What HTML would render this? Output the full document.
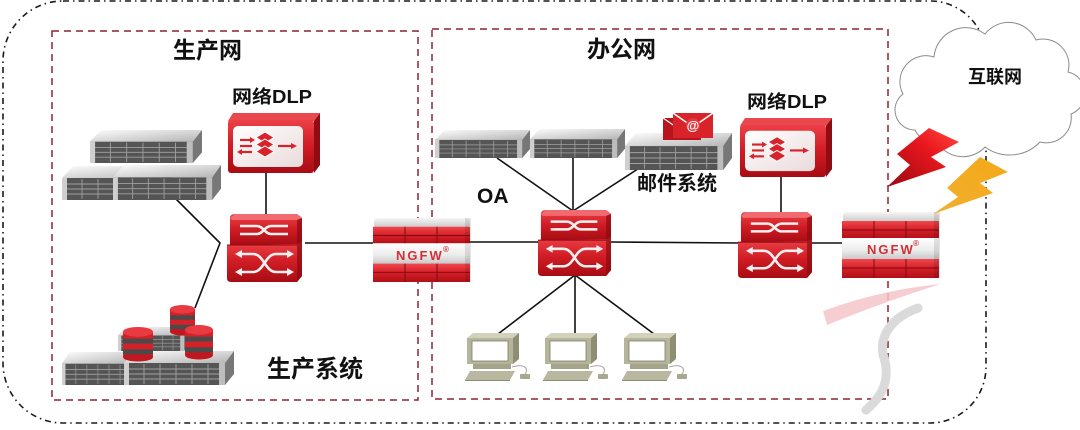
<!DOCTYPE html>
<html><head><meta charset="utf-8">
<style>
html,body{margin:0;padding:0;background:#fff;}
svg{display:block;}
text{font-family:"Liberation Sans","Noto Sans CJK SC",sans-serif;font-weight:bold;}
</style></head>
<body>
<svg width="1080" height="430" viewBox="0 0 1080 430" xmlns="http://www.w3.org/2000/svg">
<defs>
  <linearGradient id="redV" x1="0" y1="0" x2="0" y2="1">
    <stop offset="0" stop-color="#ec4046"/><stop offset="0.5" stop-color="#d01c24"/><stop offset="1" stop-color="#a80c14"/>
  </linearGradient>
  <linearGradient id="brick" x1="0" y1="0" x2="0" y2="1">
    <stop offset="0" stop-color="#f0484e"/><stop offset="0.5" stop-color="#d41e26"/><stop offset="1" stop-color="#b01018"/>
  </linearGradient>
  <linearGradient id="cap" x1="0" y1="0" x2="0" y2="1">
    <stop offset="0" stop-color="#f6f6f6"/><stop offset="1" stop-color="#c4c4c4"/>
  </linearGradient>
  <linearGradient id="band" x1="0" y1="0" x2="0" y2="1">
    <stop offset="0" stop-color="#ffffff"/><stop offset="0.6" stop-color="#ebebeb"/><stop offset="1" stop-color="#c8c8c8"/>
  </linearGradient>
  <linearGradient id="panel" x1="0" y1="0" x2="1" y2="1">
    <stop offset="0" stop-color="#ffffff"/><stop offset="1" stop-color="#eadada"/>
  </linearGradient>
  <linearGradient id="srvTop" x1="0" y1="0" x2="1" y2="1">
    <stop offset="0" stop-color="#fdfdfd"/><stop offset="1" stop-color="#b4b4b4"/>
  </linearGradient>
  <linearGradient id="boltR" x1="0" y1="1" x2="1" y2="0">
    <stop offset="0" stop-color="#9a0a10"/><stop offset="0.6" stop-color="#e8161e"/><stop offset="1" stop-color="#ff4a40"/>
  </linearGradient>
  <linearGradient id="boltY" x1="0" y1="1" x2="1" y2="0">
    <stop offset="0" stop-color="#f0b030"/><stop offset="1" stop-color="#f5a818"/>
  </linearGradient>

  <symbol id="srv" viewBox="0 0 110 34" preserveAspectRatio="none">
    <polygon points="11,0 110,0 101,12 0,12" fill="url(#srvTop)"/>
    <rect x="0" y="12" width="101" height="22" fill="#555"/>
    <g stroke="#a0a0a0" stroke-width="0.9">
      <line x1="5" y1="18" x2="96" y2="18"/><line x1="5" y1="23" x2="96" y2="23"/><line x1="5" y1="28" x2="96" y2="28"/>
      <line x1="20" y1="13" x2="20" y2="33"/><line x1="36" y1="13" x2="36" y2="33"/><line x1="52" y1="13" x2="52" y2="33"/>
      <line x1="68" y1="13" x2="68" y2="33"/><line x1="84" y1="13" x2="84" y2="33"/>
    </g>
    <rect x="0" y="12" width="5" height="22" fill="#cfcfcf"/>
    <rect x="95" y="12" width="6" height="22" fill="#bdbdbd"/>
    <polygon points="101,12 110,0 110,23 101,34" fill="#777"/>
  </symbol>

  <symbol id="sw" viewBox="0 0 75 68" preserveAspectRatio="none">
    <path d="M3 4 Q3 0 8 0 L70 0 L75 4 L75 28 L70 31 L3 31 Z" fill="url(#redV)"/>
    <path d="M3 4 L8 0 L70 0 L75 4 L70 6 L5 6 Z" fill="#f06a70"/>
    <path d="M0 31 L70 30 L75 28 L75 62 L70 68 L4 68 Q0 68 0 64 Z" fill="url(#redV)"/>
    <path d="M70 6 L75 4 L75 62 L70 68 Z" fill="#8a0a10" opacity="0.7"/>
    <line x1="0" y1="31" x2="70" y2="31" stroke="#8a0a10" stroke-width="1"/>
    <g fill="none" stroke="#f4f0f0" stroke-width="2.6">
      <path d="M13 12 L30 12 C36 12 38 20 44 20 L61 20"/>
      <path d="M13 20 L30 20 C36 20 38 12 44 12 L61 12"/>
      <path d="M13 40 L26 40 C37 40 38 58 49 58 L62 58"/>
      <path d="M13 58 L26 58 C37 58 38 40 49 40 L62 40"/>
    </g>
    <g fill="#f4f0f0">
      <polygon points="8,40 15,36 15,44"/><polygon points="8,58 15,54 15,62"/>
      <polygon points="67,40 60,36 60,44"/><polygon points="67,58 60,54 60,62"/>
    </g>
  </symbol>

  <symbol id="fw" viewBox="0 0 100 66" preserveAspectRatio="none">
    <rect x="1" y="0" width="96" height="11" rx="4" fill="url(#cap)"/>
    <rect x="0" y="9" width="97" height="18" fill="url(#brick)"/>
    <rect x="0" y="26" width="97" height="21" fill="url(#band)"/>
    <rect x="0" y="47" width="97" height="19" fill="url(#brick)"/>
    <g stroke="#7e0a10" stroke-width="1">
      <line x1="0" y1="18" x2="97" y2="18"/><line x1="0" y1="56" x2="97" y2="56"/>
      <line x1="32" y1="9" x2="32" y2="26"/><line x1="64" y1="9" x2="64" y2="26"/>
      <line x1="32" y1="47" x2="32" y2="66"/><line x1="64" y1="47" x2="64" y2="66"/>
    </g>
    <rect x="92" y="0" width="6" height="66" fill="#000" opacity="0.1"/>
  </symbol>

  <symbol id="dlp" viewBox="0 0 92 60" preserveAspectRatio="none">
    <polygon points="5,0 92,0 86,8 0,8" fill="#e8484e"/>
    <polygon points="86,8 92,0 92,52 86,60" fill="#8e0c12"/>
    <rect x="0" y="7" width="86" height="53" rx="3" fill="url(#redV)"/>
    <rect x="5" y="13" width="70" height="41" rx="5" fill="url(#panel)"/>
    <g stroke="#d8232b" stroke-width="2.2" fill="none">
      <line x1="12" y1="27" x2="24" y2="27"/><line x1="12" y1="33" x2="24" y2="33"/><line x1="12" y1="39" x2="24" y2="39"/>
      <line x1="50" y1="33" x2="65" y2="33"/>
    </g>
    <g fill="#d8232b">
      <polygon points="27,27 22,24 22,30"/><polygon points="9,39 14,36 14,42"/><polygon points="69,33 63,30 63,36"/>
      <polygon points="37,19 46,24.5 37,30 28,24.5" stroke="#fff" stroke-width="1"/>
      <polygon points="37,26 46,31.5 37,37 28,31.5" stroke="#fff" stroke-width="1"/>
      <polygon points="37,33 46,38.5 37,44 28,38.5" stroke="#fff" stroke-width="1"/>
    </g>
  </symbol>

  <symbol id="pc" viewBox="0 0 66 48" preserveAspectRatio="none">
    <polygon points="2,5 8,0 54,0 48,5" fill="#d2d2bc"/>
    <polygon points="48,5 54,0 54,26 48,31" fill="#8e8e74"/>
    <rect x="2" y="5" width="46" height="26" fill="#b5b59b"/>
    <rect x="7" y="8" width="36" height="20" fill="#ffffff" stroke="#7e7e6a" stroke-width="0.8"/>
    <rect x="8" y="31" width="38" height="5" fill="#a4a48a"/>
    <polygon points="0,47 5,38 50,38 45,47" fill="#b8b8a0"/>
    <polygon points="0,47 45,47 45,48 0,48" fill="#8e8e74"/>
    <path d="M47 34 C60 30 64 36 60 41" stroke="#9a9a9a" stroke-width="0.9" fill="none"/>
    <rect x="55" y="41" width="10" height="5" rx="1" fill="#a8a890"/>
  </symbol>

  <symbol id="db" viewBox="0 0 30 36" preserveAspectRatio="none">
    <rect x="0" y="5" width="30" height="26" fill="#d42028"/>
    <ellipse cx="15" cy="31" rx="15" ry="4.5" fill="#c01820"/>
    <rect x="0" y="12" width="30" height="5" fill="#4a4a4a"/>
    <rect x="0" y="23" width="30" height="5" fill="#4a4a4a"/>
    <ellipse cx="15" cy="5" rx="15" ry="5" fill="#e83a40"/>
  </symbol>
</defs>

<rect width="1080" height="430" fill="#fff"/>

<path d="M63 1 L930 1 A56 56 0 0 1 986 57 L986 367 A56 56 0 0 1 930 423 L63 423 A60 60 0 0 1 3 363 L3 61 A60 60 0 0 1 63 1 Z"
      fill="none" stroke="#1a1a1a" stroke-width="1.6" stroke-dasharray="6 4 1.5 4"/>

<rect x="52" y="31" width="366" height="369" fill="none" stroke="#8e2432" stroke-width="1.5" stroke-dasharray="7 5"/>
<rect x="432" y="29" width="456" height="370" fill="none" stroke="#8e2432" stroke-width="1.5" stroke-dasharray="7 5"/>

<path d="M823 311 Q880 290 941 284 Q886 301 827 325 Z" fill="#f4c4c8" opacity="0.85"/>
<path d="M918 308 C890 318 878 338 884 358 C890 378 884 395 866 410" fill="none" stroke="#dadada" stroke-width="9" stroke-linecap="round"/>

<g stroke="#111" stroke-width="1.6" fill="none">
  <polyline points="172,195 220,243 195,308"/>
  <line x1="266" y1="173" x2="266" y2="215"/>
  <line x1="305" y1="243" x2="374" y2="243"/>
  <line x1="470" y1="242" x2="540" y2="242"/>
  <line x1="610" y1="242" x2="740" y2="243"/>
  <line x1="810" y1="243" x2="844" y2="243"/>
  <line x1="781" y1="176" x2="781" y2="213"/>
  <line x1="573" y1="211" x2="497" y2="158"/>
  <line x1="573" y1="211" x2="573" y2="158"/>
  <line x1="573" y1="211" x2="644" y2="165"/>
  <line x1="575" y1="275" x2="498" y2="334"/>
  <line x1="575" y1="275" x2="575" y2="334"/>
  <line x1="575" y1="275" x2="654" y2="334"/>
</g>

<use href="#srv" x="90" y="130" width="112" height="33"/>
<use href="#srv" x="62" y="166" width="110" height="34"/>
<use href="#srv" x="113" y="165" width="108" height="35"/>

<use href="#srv" x="118" y="327" width="72" height="24"/>
<use href="#srv" x="62" y="352" width="76" height="33"/>
<use href="#srv" x="124" y="351" width="110" height="34"/>
<use href="#db" x="170" y="305" width="25" height="31"/>
<use href="#db" x="123" y="327" width="30" height="35"/>
<use href="#db" x="185" y="325" width="28" height="35"/>

<use href="#dlp" x="228" y="113" width="92" height="60"/>
<use href="#sw" x="227" y="214" width="75" height="68"/>
<use href="#fw" x="373" y="218" width="100" height="64"/>
<text x="396" y="260" font-size="13" fill="#d23038" letter-spacing="2">NGFW</text>
<text x="443" y="252" font-size="8" fill="#d23038">®</text>

<use href="#srv" x="435" y="130" width="95" height="28"/>
<use href="#srv" x="530" y="129" width="95" height="29"/>
<use href="#srv" x="625" y="133" width="107" height="37"/>
<g>
  <rect x="663" y="118" width="38" height="22" fill="#b8141b"/>
  <path d="M663 118 L682 131 L701 118" fill="none" stroke="#fff" stroke-width="1.2"/>
  <rect x="673" y="113" width="40" height="25" fill="#d9232a"/>
  <path d="M673 113 L693 127 L713 113" fill="none" stroke="#fff" stroke-width="1.5"/>
  <circle cx="693" cy="125" r="7" fill="#e8383e"/>
  <text x="693" y="130" font-size="13" fill="#fff" text-anchor="middle">@</text>
</g>

<use href="#sw" x="538" y="210" width="73" height="66"/>
<use href="#dlp" x="740" y="118" width="92" height="59"/>
<use href="#sw" x="738" y="212" width="74" height="66"/>
<use href="#fw" x="842" y="212" width="100" height="66"/>
<text x="867" y="254" font-size="13" fill="#d23038" letter-spacing="2">NGFW</text>
<text x="913" y="246" font-size="8" fill="#d23038">®</text>

<use href="#pc" x="465" y="333" width="66" height="48"/>
<use href="#pc" x="543" y="333" width="66" height="48"/>
<use href="#pc" x="622" y="333" width="66" height="48"/>

<path d="M915 130 A20 20 0 0 1 903 94 A26 26 0 0 1 934 57 A32 32 0 0 1 985 34 A30 30 0 0 1 1036 40 A26 26 0 0 1 1068 72 A22 22 0 0 1 1071 114 A25 25 0 0 1 1040 142 A42 42 0 0 1 985 147 A30 30 0 0 1 936 140 A18 18 0 0 1 915 130 Z"
      fill="#fff" stroke="#8c8c8c" stroke-width="1"/>

<polygon points="929,128 959,142 931,157 946,167 887,187 910,165 897,154" fill="url(#boltR)"/>
<polygon points="980,157 1008,172 980,183 993,193 933,214 958,197 947,188" fill="url(#boltY)"/>

<text x="173" y="58" font-size="23" fill="#111">生产网</text>
<text x="587" y="57" font-size="23" fill="#111">办公网</text>
<text x="232" y="103" font-size="18" fill="#111" textLength="80" lengthAdjust="spacingAndGlyphs">网络DLP</text>
<text x="747" y="108" font-size="18" fill="#111" textLength="80" lengthAdjust="spacingAndGlyphs">网络DLP</text>
<text x="637" y="190" font-size="20" fill="#111">邮件系统</text>
<text x="477" y="203" font-size="21" fill="#111">OA</text>
<text x="267" y="377" font-size="24" fill="#111">生产系统</text>
<text x="968" y="83" font-size="18" fill="#111">互联网</text>
</svg>
</body></html>
